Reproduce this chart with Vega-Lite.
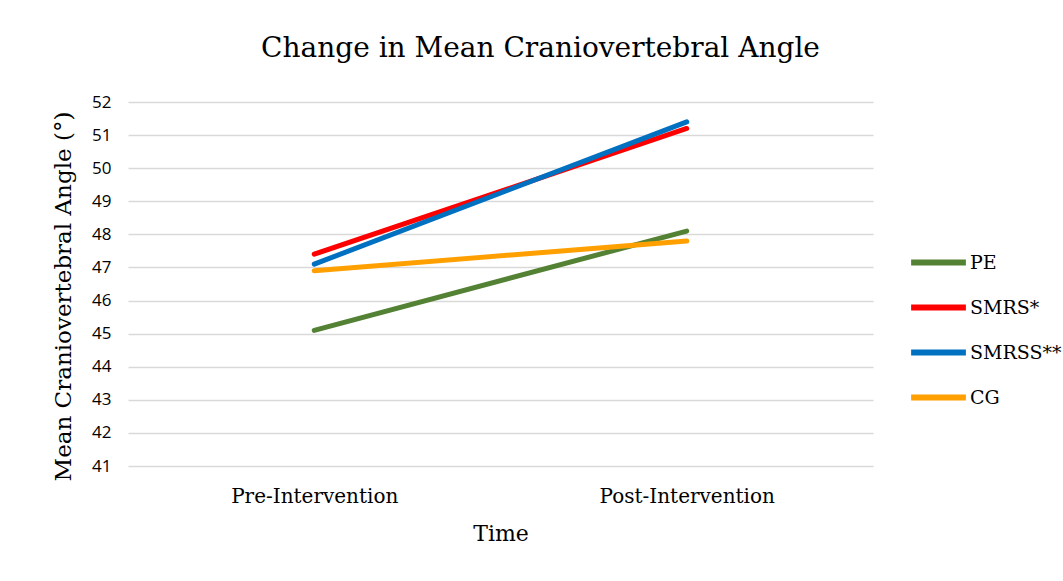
{
  "$schema": "https://vega.github.io/schema/vega-lite/v6.json",
  "width": 745,
  "height": 364,
  "autosize": {"type": "none"},
  "padding": {"left": 128, "top": 102, "right": 190, "bottom": 115},
  "background": "white",
  "title": {
    "text": "Change in Mean Craniovertebral Angle",
    "font": "DejaVu Serif",
    "fontSize": 28,
    "fontWeight": "normal",
    "color": "#000000",
    "anchor": "middle",
    "dx": 40,
    "offset": 30
  },
  "data": {
    "values": [
      {"time": "Pre-Intervention", "group": "PE", "value": 45.1},
      {"time": "Post-Intervention", "group": "PE", "value": 48.1},
      {"time": "Pre-Intervention", "group": "SMRS*", "value": 47.4},
      {"time": "Post-Intervention", "group": "SMRS*", "value": 51.2},
      {"time": "Pre-Intervention", "group": "SMRSS**", "value": 47.1},
      {"time": "Post-Intervention", "group": "SMRSS**", "value": 51.4},
      {"time": "Pre-Intervention", "group": "CG", "value": 46.9},
      {"time": "Post-Intervention", "group": "CG", "value": 47.8}
    ]
  },
  "mark": {"type": "line", "strokeWidth": 5, "strokeCap": "round"},
  "encoding": {
    "x": {
      "field": "time",
      "type": "ordinal",
      "sort": ["Pre-Intervention", "Post-Intervention"],
      "scale": {"type": "point", "padding": 0.5},
      "axis": {
        "title": "Time",
        "labelAngle": 0,
        "labelFont": "DejaVu Serif",
        "labelFontSize": 20,
        "labelColor": "#000000",
        "labelPadding": 20,
        "titleFont": "DejaVu Serif",
        "titleFontSize": 22,
        "titleFontWeight": "normal",
        "titleColor": "#000000",
        "titlePadding": 17,
        "domain": false,
        "ticks": false,
        "grid": false
      }
    },
    "y": {
      "field": "value",
      "type": "quantitative",
      "scale": {"domain": [41, 52], "nice": false, "zero": false},
      "axis": {
        "title": "Mean Craniovertebral Angle (°)",
        "values": [41, 42, 43, 44, 45, 46, 47, 48, 49, 50, 51, 52],
        "labelFont": "Open Sans",
        "labelFontSize": 17,
        "labelColor": "#000000",
        "labelPadding": 17,
        "titleFont": "DejaVu Serif",
        "titleFontSize": 23,
        "titleFontWeight": "normal",
        "titleColor": "#000000",
        "titlePadding": 16,
        "titleY": 194,
        "domain": false,
        "ticks": false,
        "gridColor": "#d9d9d9",
        "gridWidth": 1.5
      }
    },
    "color": {
      "field": "group",
      "type": "nominal",
      "sort": ["PE", "SMRS*", "SMRSS**", "CG"],
      "scale": {
        "domain": ["PE", "SMRS*", "SMRSS**", "CG"],
        "range": ["#548235", "#FF0000", "#0070C0", "#FFA000"]
      },
      "legend": {
        "title": null,
        "orient": "none",
        "legendX": 780,
        "legendY": 130,
        "symbolType": "stroke",
        "symbolSize": 3000,
        "symbolStrokeWidth": 6,
        "labelFont": "DejaVu Serif",
        "labelFontSize": 19,
        "labelColor": "#000000",
        "labelOffset": 1,
        "rowPadding": 2,
        "labelLimit": 200
      }
    }
  },
  "config": {"view": {"stroke": null}}
}
